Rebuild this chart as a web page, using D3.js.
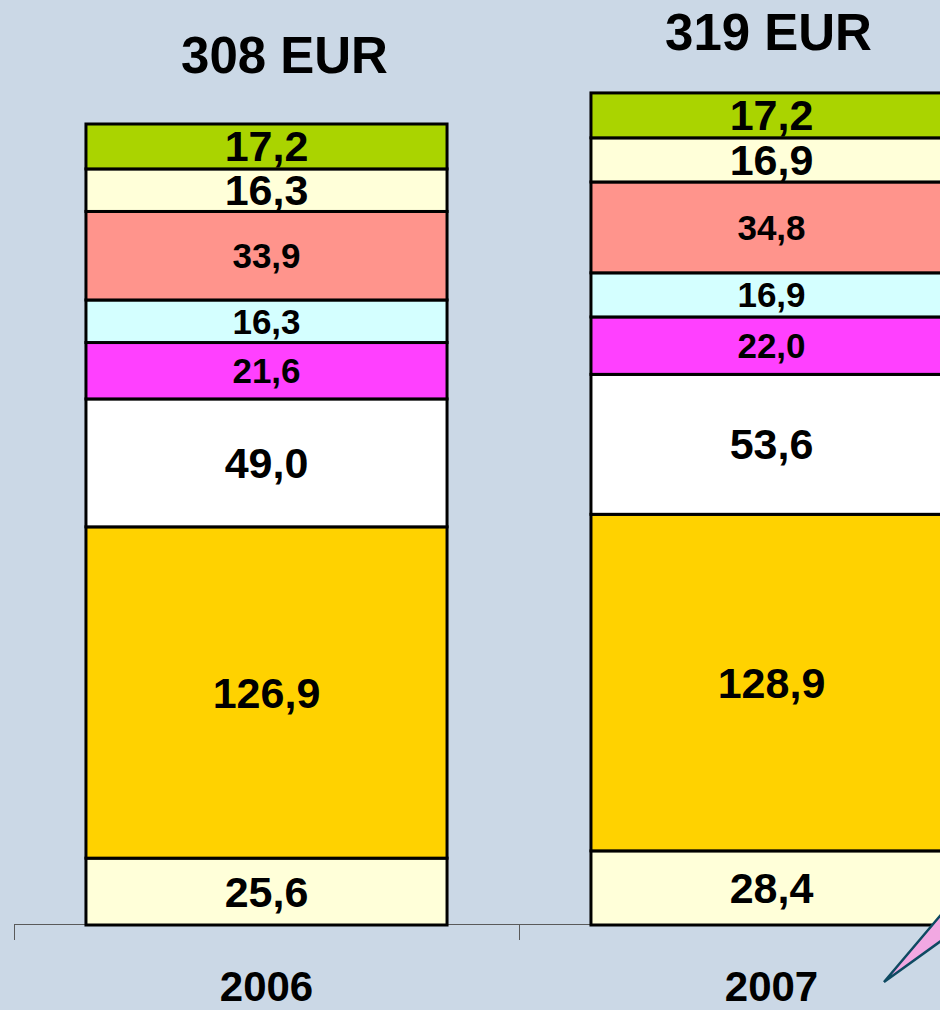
<!DOCTYPE html>
<html>
<head>
	<style>
	body {
		margin: 0;
		background: #cbd8e6;
	}
	svg { display: block; }
	text { font-family: "Liberation Sans", Arial, sans-serif; font-weight: bold; fill: #000; }
	</style>
</head>
<body>
	<script src="https://d3js.org/d3.v7.min.js"></script>
	<script>
	// data
	var years = ["2006", "2007"];
	var totals = ["308 EUR", "319 EUR"];
	// stack order, bottom to top
	var v2006 = [25.6, 126.9, 49.0, 21.6, 16.3, 33.9, 16.3, 17.2];
	var v2007 = [28.4, 128.9, 53.6, 22.0, 16.9, 34.8, 16.9, 17.2];
	var colors = ["#ffffd9", "#ffd200", "#ffffff", "#ff40ff", "#d4ffff", "#ff948c", "#ffffd9", "#aad400"];
	var smallLabel = [false, false, false, true, true, true, false, false];

	var width = 940, height = 1010;
	var base = 925;

	var svg = d3.select("body").append("svg")
		.attr("width", width)
		.attr("height", height);

	var series = [v2006, v2007];

	var x = d3.scaleBand()
		.domain(years)
		.range([14, 1024])
		.padding(0);

	var barW = x.bandwidth() * 0.715;

	var y = d3.scaleLinear()
		.domain([0, d3.sum(v2006)])
		.range([base, 124]);

	// axis line and boundary ticks
	var g = svg.append("g");
	g.append("line")
		.attr("x1", x.range()[0]).attr("x2", x.range()[1])
		.attr("y1", base - 0.5).attr("y2", base - 0.5)
		.attr("stroke", "#5a5a5a").attr("stroke-width", 1);
	var edges = [x.range()[0]].concat(years.map(function(d){ return x(d) + x.step(); }));
	g.selectAll(".tick").data(edges).enter().append("line")
		.attr("x1", function(d){ return d + 0.5; })
		.attr("x2", function(d){ return d + 0.5; })
		.attr("y1", base).attr("y2", base + 15)
		.attr("stroke", "#5a5a5a").attr("stroke-width", 1);

	// stacked bars
	years.forEach(function(yr, i){
		var vals = series[i];
		var cum = 0;
		var segs = vals.map(function(v, k){
			var s = { y0: cum, y1: cum + v, v: v, k: k };
			cum += v;
			return s;
		});
		var cx = x(yr) + x.bandwidth() / 2;
		var bar = svg.append("g");

		bar.selectAll("rect").data(segs).enter().append("rect")
			.attr("x", cx - barW / 2)
			.attr("y", function(d){ return y(d.y1); })
			.attr("width", barW)
			.attr("height", function(d){ return y(d.y0) - y(d.y1); })
			.attr("fill", function(d){ return colors[d.k]; })
			.attr("stroke", "#000")
			.attr("stroke-width", 3);

		bar.selectAll("text").data(segs).enter().append("text")
			.attr("x", cx)
			.attr("y", function(d){ return (y(d.y0) + y(d.y1)) / 2; })
			.attr("text-anchor", "middle")
			.attr("dominant-baseline", "central")
			.style("font-size", function(d){ return smallLabel[d.k] ? "35px" : "43px"; })
			.text(function(d){ return d.v.toFixed(1).replace(".", ","); });
	});

	// totals above bars
	var titleDx = [18, -3], titleDy = [-51, -43];
	svg.selectAll(".total").data(years).enter().append("text")
		.attr("class", "total")
		.attr("x", function(d, i){ return x(d) + x.bandwidth() / 2 + titleDx[i]; })
		.attr("y", function(d, i){ return y(d3.sum(series[i])) + titleDy[i]; })
		.attr("text-anchor", "middle")
		.style("font-size", "51px")
		.text(function(d, i){ return totals[i]; });

	// category labels
	svg.selectAll(".cat").data(years).enter().append("text")
		.attr("class", "cat")
		.attr("x", function(d){ return x(d) + x.bandwidth() / 2; })
		.attr("y", 1001)
		.attr("text-anchor", "middle")
		.style("font-size", "42px")
		.text(function(d){ return d; });

	// callout pointer (partially visible at right edge)
	svg.append("path")
		.attr("d", d3.line()([[884, 982], [945, 910], [945, 938]]) + "Z")
		.attr("fill", "#f2a8e2")
		.attr("stroke", "#0e4a62")
		.attr("stroke-width", 2.5)
		.attr("stroke-linejoin", "miter");
	</script>
</body>
</html>
